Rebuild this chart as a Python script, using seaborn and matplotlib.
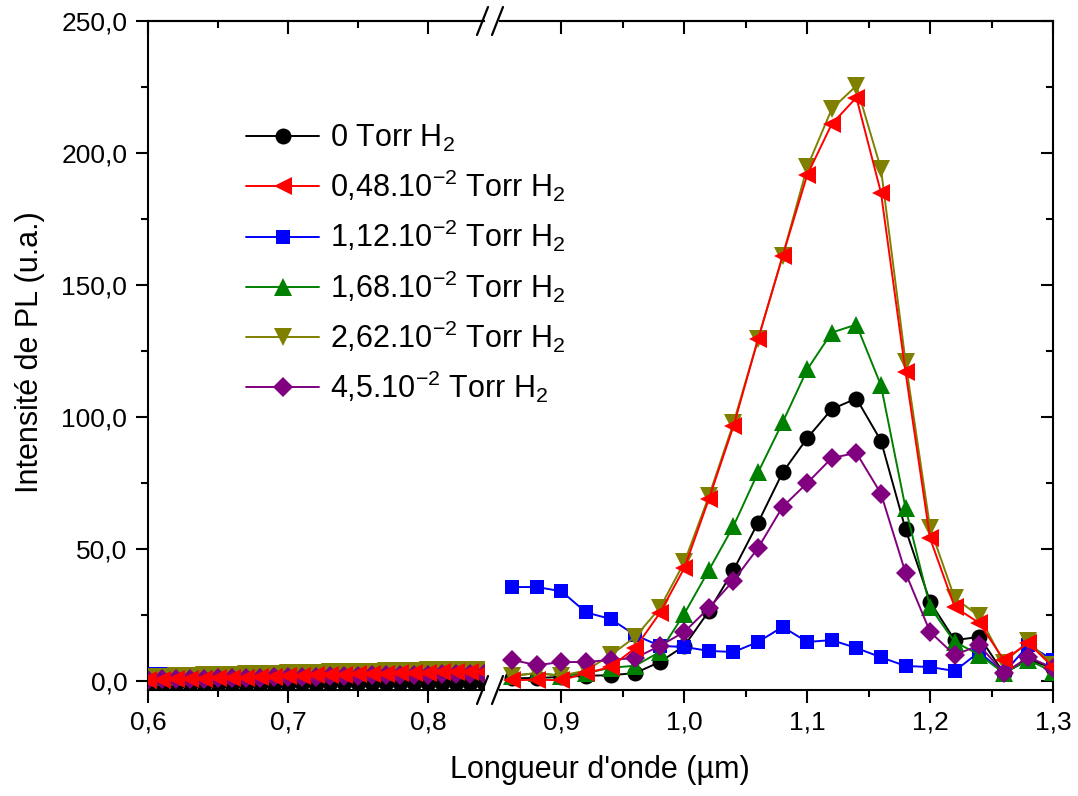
import numpy as np
import matplotlib
matplotlib.use("Agg")
import matplotlib.pyplot as plt
from matplotlib.lines import Line2D
from matplotlib.ticker import FixedLocator, FixedFormatter
import seaborn as sns

# ---------------- data ----------------
x_left = [0.60, 0.61, 0.62, 0.63, 0.64, 0.65, 0.66, 0.67, 0.68, 0.69, 0.70, 0.71, 0.72,
          0.73, 0.74, 0.75, 0.76, 0.77, 0.78, 0.79, 0.80, 0.81, 0.82, 0.83, 0.84]
x_right = [0.86, 0.88, 0.90, 0.92, 0.94, 0.96, 0.98, 1.00, 1.02, 1.04, 1.06, 1.08,
           1.10, 1.12, 1.14, 1.16, 1.18, 1.20, 1.22, 1.24, 1.26, 1.28, 1.30]

labels = ["0 Torr H$_2$",
          "0,48.10$^{-2}$ Torr H$_2$",
          "1,12.10$^{-2}$ Torr H$_2$",
          "1,68.10$^{-2}$ Torr H$_2$",
          "2,62.10$^{-2}$ Torr H$_2$",
          "4,5.10$^{-2}$ Torr H$_2$"]

black_left = [-1.2, -1.2, -1.1, -1.2, -1.1, -1.1, -1.0, -1.1, -1.0, -1.0, -1.0, -0.9, -1.0,
              -0.9, -0.9, -0.9, -0.8, -0.9, -0.8, -0.8, -0.8, -0.7, -0.8, -0.7, -0.7]
red_left = [0.4, 0.5, 0.6, 0.8, 0.9, 1.0, 1.2, 1.3, 1.5, 1.6, 1.8, 1.9, 2.1,
            2.2, 2.3, 2.5, 2.6, 2.8, 2.9, 3.0, 3.2, 3.3, 3.4, 3.4, 3.5]
blue_left = [2.5, 2.6, 2.6, 2.8, 2.9, 3.0, 3.1, 3.3, 3.3, 3.5, 3.7, 3.8, 3.9,
             4.0, 4.1, 4.2, 4.3, 4.5, 4.5, 4.7, 4.9, 4.9, 5.0, 5.0, 5.1]
green_left = [1.5, 1.6, 1.7, 1.9, 2.0, 2.1, 2.3, 2.4, 2.5, 2.7, 2.8, 2.9, 3.0,
              3.2, 3.3, 3.4, 3.5, 3.6, 3.8, 3.9, 4.0, 4.1, 4.2, 4.2, 4.3]
olive_left = [1.6, 1.7, 1.9, 2.0, 2.1, 2.3, 2.4, 2.5, 2.7, 2.8, 2.9, 3.0, 3.2,
              3.3, 3.4, 3.5, 3.6, 3.7, 3.8, 3.9, 4.0, 4.1, 4.2, 4.3, 4.3]
purple_left = [0.5, 0.6, 0.7, 0.8, 0.9, 1.0, 1.1, 1.2, 1.3, 1.4, 1.5, 1.6, 1.7,
               1.8, 1.9, 2.0, 2.1, 2.2, 2.3, 2.4, 2.4, 2.5, 2.5, 2.6, 2.6]

black_right = [1.0, 1.2, 1.5, 2.0, 2.2, 3.0, 7.2, 13.3, 26.5, 42.0, 60.0, 79.0,
               92.0, 103.0, 107.0, 91.0, 57.5, 30.0, 15.5, 16.7, 3.0, 8.0, 5.0]
red_right = [0.3, 0.5, 0.3, 3.0, 5.3, 12.5, 25.7, 42.8, 69.0, 96.6, 129.5, 161.0,
             191.7, 211.0, 221.0, 185.0, 117.0, 54.0, 28.0, 22.0, 8.0, 14.4, 5.3]
blue_right = [35.6, 35.6, 34.0, 26.0, 23.5, 17.4, 13.3, 12.9, 11.4, 11.0, 14.8, 20.5,
              14.8, 15.5, 12.5, 9.0, 5.7, 5.3, 3.8, 11.0, 3.0, 13.6, 8.0]
green_right = [2.0, 3.0, 2.0, 3.0, 5.0, 5.8, 11.0, 25.5, 42.0, 58.7, 79.0, 98.0,
               118.0, 132.0, 135.0, 112.0, 65.5, 28.0, 14.8, 10.0, 3.0, 8.0, 3.4]
olive_right = [2.0, 3.0, 2.0, 4.0, 9.8, 16.7, 27.6, 45.0, 70.0, 97.7, 129.5, 161.0,
               194.7, 216.7, 225.5, 194.0, 121.0, 58.0, 31.4, 24.6, 7.0, 15.0, 6.0]
purple_right = [8.0, 6.0, 7.2, 7.2, 8.0, 8.7, 13.3, 18.6, 27.7, 38.0, 50.4, 66.0,
                75.0, 84.5, 86.4, 71.0, 41.0, 18.6, 9.8, 13.6, 3.0, 9.0, 5.0]

y_ticks = [0, 50, 100, 150, 200, 250]
y_tick_labels = ["0,0", "50,0", "100,0", "150,0", "200,0", "250,0"]
y_minor = [25, 75, 125, 175, 225]
xl_ticks = [0.6, 0.7, 0.8]
xl_tick_labels = ["0,6", "0,7", "0,8"]
xl_minor = [0.65, 0.75]
xr_ticks = [0.9, 1.0, 1.1, 1.2, 1.3]
xr_tick_labels = ["0,9", "1,0", "1,1", "1,2", "1,3"]
xr_minor = [0.95, 1.05, 1.15, 1.25]

# ---------------- style ----------------
sns.set_style("ticks")
plt.rcParams["font.family"] = ["Liberation Sans", "DejaVu Sans"]
plt.rcParams["mathtext.fontset"] = "custom"
plt.rcParams["mathtext.rm"] = "Liberation Sans"
plt.rcParams["mathtext.it"] = "Liberation Sans:italic"
plt.rcParams["mathtext.bf"] = "Liberation Sans:bold"
plt.rcParams["axes.linewidth"] = 1.5
for k in ("text.color", "axes.labelcolor", "xtick.color", "ytick.color",
          "axes.edgecolor", "xtick.labelcolor", "ytick.labelcolor"):
    plt.rcParams[k] = "black"

series = [
    (black_left, black_right, "black", "o", 11.5, 2),
    (red_left, red_right, "#FF0000", "<", 13.0, 7),
    (blue_left, blue_right, "#0000FF", "s", 10.0, 3),
    (green_left, green_right, "#008000", "^", 13.0, 4),
    (olive_left, olive_right, "#808000", "v", 13.0, 5),
    (purple_left, purple_right, "#800080", "D", 10.5, 6),
]

W, H = 1078, 796
fig = plt.figure(figsize=(W / 100, H / 100), dpi=100)
bottom = (H - 690) / H
height = (690 - 21) / H
axL = fig.add_axes([148 / W, bottom, (484 - 148) / W, height])
axR = fig.add_axes([500 / W, bottom, (1053 - 500) / W, height])

for i, (yl, yr, col, mk, ms, z) in enumerate(series):
    sns.lineplot(x=x_left, y=yl, ax=axL, color=col, marker=mk, markersize=ms,
                 markeredgewidth=0, linewidth=1.4, legend=False, zorder=z)
    sns.lineplot(x=x_right, y=yr, ax=axR, color=col, marker=mk, markersize=ms,
                 markeredgewidth=0, linewidth=1.4, legend=False, zorder=z,
                 label=labels[i])
    if axR.get_legend() is not None:
        axR.get_legend().remove()

ylim = (-3.4, 250)
for ax in (axL, axR):
    ax.set_ylim(*ylim)
    ax.set_xlabel("")
    ax.set_ylabel("")
    for s in ax.spines.values():
        s.set_linewidth(1.5)

axL.set_xlim(0.6, 0.84)
axR.set_xlim(0.85, 1.30)
axL.spines["right"].set_visible(False)
axR.spines["left"].set_visible(False)

tick_fs = 19
# left axes
axL.xaxis.set_major_locator(FixedLocator(xl_ticks))
axL.xaxis.set_major_formatter(FixedFormatter(xl_tick_labels))
axL.xaxis.set_minor_locator(FixedLocator(xl_minor))
axL.yaxis.set_major_locator(FixedLocator(y_ticks))
axL.yaxis.set_major_formatter(FixedFormatter(y_tick_labels))
axL.yaxis.set_minor_locator(FixedLocator(y_minor))
axL.tick_params(axis="both", which="both", direction="out", width=1.5,
                labelsize=tick_fs, top=False, right=False, pad=6)
axL.tick_params(which="major", length=9)
axL.tick_params(which="minor", length=5)

# right axes
axR.xaxis.set_major_locator(FixedLocator(xr_ticks))
axR.xaxis.set_major_formatter(FixedFormatter(xr_tick_labels))
axR.xaxis.set_minor_locator(FixedLocator(xr_minor))
axR.yaxis.set_major_locator(FixedLocator(y_ticks))
axR.yaxis.set_minor_locator(FixedLocator(y_minor))
axR.yaxis.tick_right()
axR.tick_params(axis="y", which="both", direction="in", labelright=False,
                left=False, width=1.5)
axR.tick_params(axis="x", which="both", direction="out", width=1.5,
                labelsize=tick_fs, top=False, pad=6)
axR.tick_params(which="major", length=9)
axR.tick_params(which="minor", length=5)

# inward ticks on top
for ax, mj, mn in ((axL, xl_ticks, xl_minor), (axR, xr_ticks, xr_minor)):
    sec = ax.secondary_xaxis("top")
    sec.xaxis.set_major_locator(FixedLocator(mj))
    sec.xaxis.set_minor_locator(FixedLocator(mn))
    sec.tick_params(which="both", direction="in", width=1.5, labeltop=False)
    sec.tick_params(which="major", length=9)
    sec.tick_params(which="minor", length=5)
    sec.spines["top"].set_linewidth(1.5)

# axis break marks
def brk(yc):
    for x0 in (477, 492):
        fig.add_artist(Line2D([x0 / W, (x0 + 11) / W],
                              [1 - (yc + 14) / H, 1 - (yc - 14) / H],
                              color="black", linewidth=1.6))
brk(21)
brk(690)

# labels
fig.text(600 / W, 1 - 770 / H, "Longueur d'onde (µm)", ha="center", va="center",
         fontsize=22)
fig.text(30 / W, 1 - 352 / H, "Intensité de PL (u.a.)", ha="center", va="center",
         rotation=90, fontsize=22)

# legend
handles = [l for l in axR.get_lines() if not l.get_label().startswith("_")]
fig.legend(handles=handles, labels=[h.get_label() for h in handles],
           loc="upper left", bbox_to_anchor=(246 / W, 1 - 123 / H),
           frameon=False, fontsize=22, handlelength=2.4, handletextpad=0.35,
           labelspacing=0.45, borderpad=0, borderaxespad=0)

fig.savefig("out.png", dpi=100)
